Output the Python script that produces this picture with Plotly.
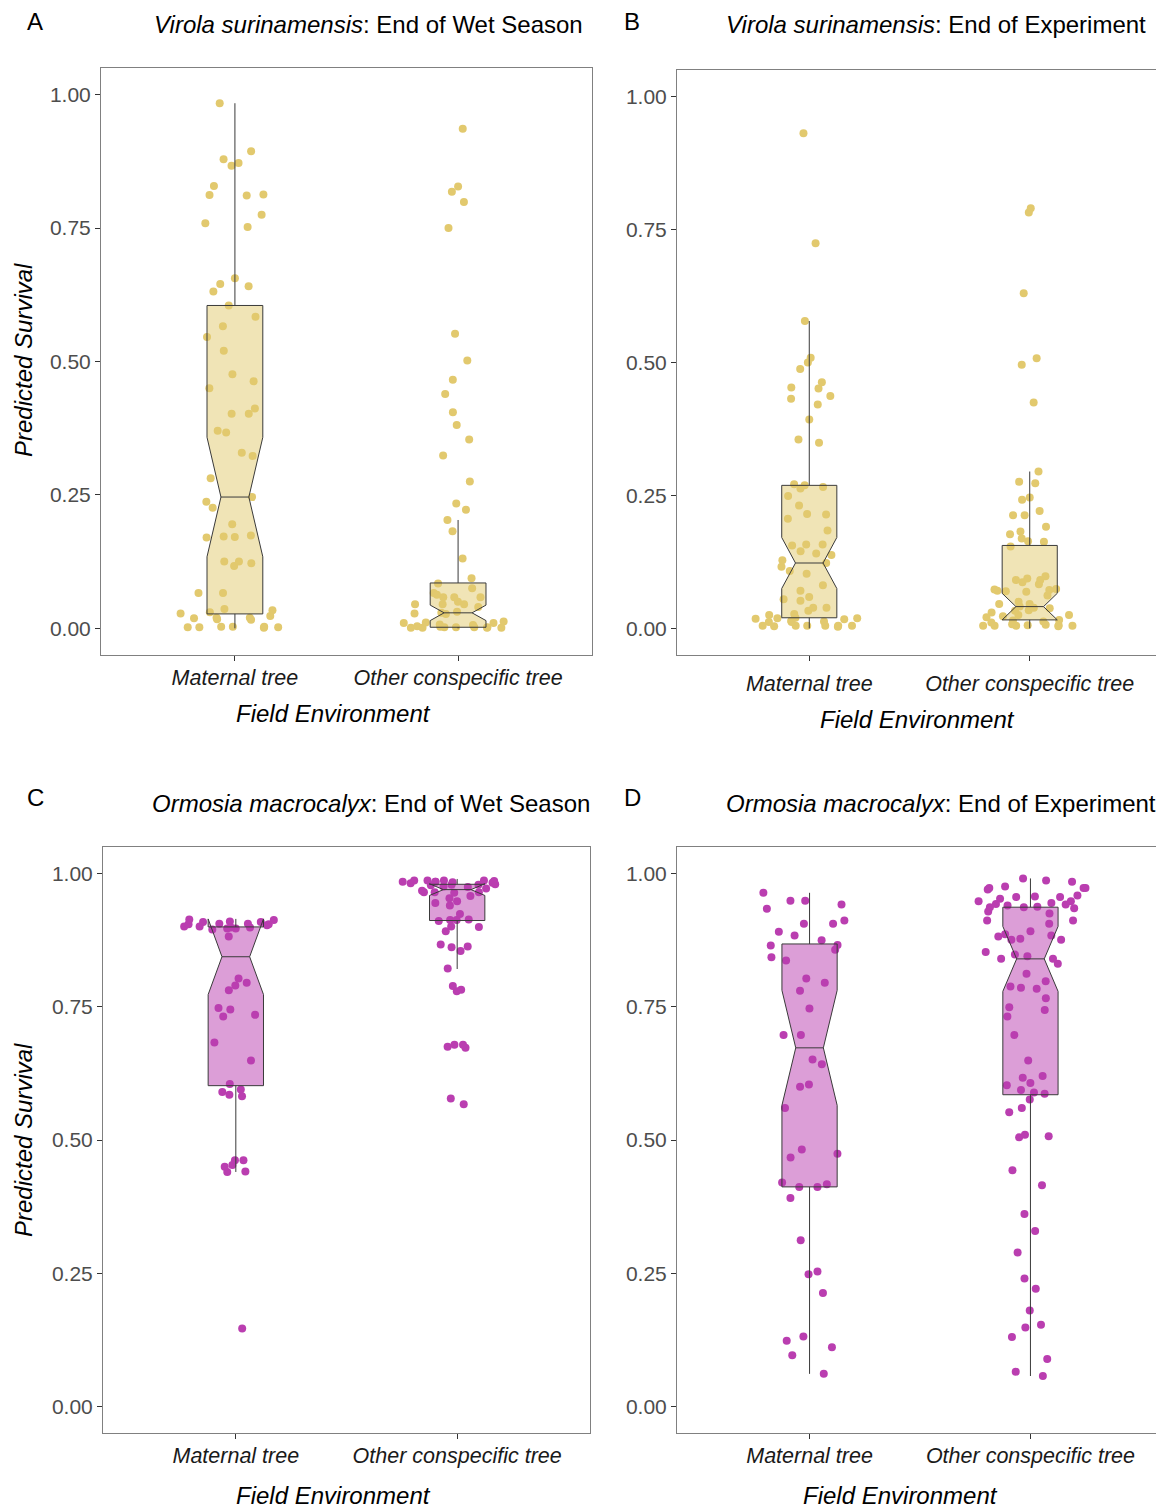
import plotly.graph_objects as go

W, H = 1164, 1509
OFF = 8  # browser body margin
FW, FH = W - OFF, H - OFF

# ---------------- data ----------------
categories = ["Maternal tree", "Other conspecific tree"]
y_ticks = [0.0, 0.25, 0.5, 0.75, 1.0]

# Panel A: Virola surinamensis, End of Wet Season
a_maternal = [0.984, 0.894, 0.879, 0.872, 0.867, 0.829, 0.813, 0.812, 0.811, 0.775,
              0.759, 0.752, 0.656, 0.645, 0.641, 0.631, 0.605, 0.584, 0.566, 0.546,
              0.520, 0.476, 0.463, 0.450, 0.412, 0.402, 0.402, 0.370, 0.367, 0.329,
              0.323, 0.281, 0.246, 0.237, 0.226, 0.195, 0.174, 0.172, 0.171, 0.170,
              0.125, 0.125, 0.117, 0.122, 0.066, 0.066, 0.036, 0.034, 0.030, 0.028,
              0.023, 0.020, 0.019, 0.016, 0.017, 0.020, 0.003, 0.002, 0.003, 0.002,
              0.001, 0.002, 0.003]
a_other = [0.936, 0.828, 0.818, 0.799, 0.750, 0.552, 0.502, 0.466, 0.439, 0.405,
           0.381, 0.354, 0.324, 0.275, 0.234, 0.222, 0.203, 0.182, 0.131, 0.094,
           0.084, 0.075, 0.063, 0.066, 0.058, 0.058, 0.058, 0.050, 0.045, 0.045,
           0.045, 0.031, 0.040, 0.029, 0.028, 0.027, 0.013, 0.011, 0.010, 0.010,
           0.007, 0.002, 0.001, 0.002, 0.001, 0.002, 0.001, 0.002, 0.001, 0.003,
           0.004, 0.006]

# Panel B: Virola surinamensis, End of Experiment
b_maternal = [0.931, 0.724, 0.578, 0.509, 0.500, 0.488, 0.463, 0.453, 0.451, 0.437,
              0.432, 0.421, 0.393, 0.355, 0.349, 0.271, 0.269, 0.266, 0.263, 0.249,
              0.231, 0.215, 0.214, 0.206, 0.184, 0.158, 0.158, 0.156, 0.145, 0.141,
              0.138, 0.128, 0.123, 0.116, 0.108, 0.103, 0.081, 0.071, 0.059, 0.055,
              0.052, 0.039, 0.039, 0.033, 0.027, 0.025, 0.020, 0.019, 0.019, 0.018,
              0.017, 0.014, 0.013, 0.012, 0.012, 0.005, 0.005, 0.005, 0.005, 0.005,
              0.005, 0.004, 0.003]
b_other = [0.790, 0.782, 0.630, 0.508, 0.496, 0.425, 0.295, 0.276, 0.273, 0.246,
           0.242, 0.221, 0.213, 0.213, 0.191, 0.182, 0.177, 0.169, 0.164, 0.163,
           0.154, 0.098, 0.094, 0.091, 0.091, 0.087, 0.083, 0.073, 0.074, 0.072,
           0.071, 0.070, 0.069, 0.062, 0.050, 0.046, 0.046, 0.041, 0.039, 0.038,
           0.034, 0.033, 0.030, 0.025, 0.025, 0.023, 0.021, 0.016, 0.015, 0.013,
           0.011, 0.008, 0.007, 0.006, 0.005, 0.005, 0.005, 0.005, 0.006, 0.004]

# Panel C: Ormosia macrocalyx, End of Wet Season
c_maternal = [0.914, 0.909, 0.906, 0.905, 0.901, 0.899, 0.897, 0.895, 0.909, 0.905,
              0.913, 0.899, 0.906, 0.901, 0.903, 0.897, 0.910, 0.882, 0.803, 0.781,
              0.795, 0.790, 0.748, 0.735, 0.745, 0.732, 0.683, 0.649, 0.605, 0.595,
              0.590, 0.585, 0.582, 0.462, 0.462, 0.440, 0.441, 0.450, 0.453, 0.146]
c_other = [0.987, 0.985, 0.987, 0.985, 0.987, 0.987, 0.986, 0.985, 0.984, 0.979,
           0.965, 0.965, 0.964, 0.954, 0.979, 0.965, 0.975, 0.958, 0.982, 0.978,
           0.983, 0.976, 0.980, 0.972, 0.968, 0.948, 0.945, 0.940, 0.924, 0.914,
           0.913, 0.913, 0.911, 0.900, 0.901, 0.892, 0.862, 0.867, 0.863, 0.855,
           0.822, 0.782, 0.789, 0.779, 0.679, 0.673, 0.679, 0.675, 0.578, 0.567]

# Panel D: Ormosia macrocalyx, End of Experiment
d_maternal = [0.964, 0.949, 0.949, 0.934, 0.942, 0.912, 0.906, 0.906, 0.891, 0.884,
              0.875, 0.866, 0.865, 0.857, 0.843, 0.837, 0.803, 0.795, 0.780, 0.747,
              0.697, 0.697, 0.651, 0.642, 0.600, 0.604, 0.560, 0.467, 0.474, 0.482,
              0.417, 0.412, 0.412, 0.420, 0.391, 0.312, 0.248, 0.253, 0.213, 0.123,
              0.131, 0.111, 0.096, 0.061]
d_other = [0.991, 0.987, 0.985, 0.976, 0.973, 0.973, 0.973, 0.970, 0.959, 0.957,
           0.956, 0.956, 0.953, 0.948, 0.948, 0.945, 0.942, 0.940, 0.937, 0.938,
           0.943, 0.937, 0.935, 0.929, 0.925, 0.912, 0.912, 0.906, 0.892, 0.882,
           0.886, 0.878, 0.876, 0.884, 0.876, 0.848, 0.853, 0.845, 0.831, 0.840,
           0.840, 0.798, 0.812, 0.784, 0.788, 0.786, 0.766, 0.749, 0.744, 0.732,
           0.697, 0.649, 0.620, 0.617, 0.607, 0.603, 0.594, 0.589, 0.587, 0.576,
           0.560, 0.552, 0.510, 0.507, 0.505, 0.443, 0.415, 0.361, 0.329, 0.289,
           0.240, 0.221, 0.180, 0.153, 0.148, 0.130, 0.089, 0.065, 0.057]

# box summary statistics [maternal, other]
a_q1, a_med, a_q3 = [0.027, 0.002], [0.246, 0.029], [0.605, 0.085]
a_lo, a_hi, a_notch = [0.0, 0.0], [0.984, 0.203], [0.112, 0.0145]
b_q1, b_med, b_q3 = [0.020, 0.016], [0.123, 0.041], [0.269, 0.156]
b_lo, b_hi, b_notch = [0.0, 0.0], [0.578, 0.295], [0.048, 0.025]
c_q1, c_med, c_q3 = [0.602, 0.912], [0.844, 0.970], [0.900, 0.980]
c_lo, c_hi, c_notch = [0.440, 0.821], [0.914, 0.990], [0.071, 0.011]
d_q1, d_med, d_q3 = [0.412, 0.585], [0.673, 0.840], [0.868, 0.937]
d_lo, d_hi, d_notch = [0.061, 0.057], [0.964, 0.991], [0.108, 0.061]

titles = ["<i>Virola surinamensis</i>: End of Wet Season",
          "<i>Virola surinamensis</i>: End of Experiment",
          "<i>Ormosia macrocalyx</i>: End of Wet Season",
          "<i>Ormosia macrocalyx</i>: End of Experiment"]
letters = ["A", "B", "C", "D"]

# ---------------- style ----------------
FONT = "Liberation Sans, Arial, Helvetica, sans-serif"
GOLD = "rgb(226,201,110)"
GOLD_FILL = "rgba(226,201,110,0.5)"
MAG = "rgb(186,62,176)"
MAG_FILL = "rgba(186,62,176,0.5)"


def px_x(p):
    return min(1.0, max(0.0, (p - OFF) / FW))


def px_y(p):
    return min(1.0, max(0.0, 1 - (p - OFF) / FH))


# panel pixel boxes (page coordinates): left, right, top, bottom
panels = [
    (101, 592, 68, 655),
    (677, 1162, 70, 655),
    (103, 590, 847, 1433),
    (677, 1163, 847, 1433),
]

panel_data = [
    (a_maternal, a_other, a_q1, a_med, a_q3, a_lo, a_hi, a_notch, GOLD, GOLD_FILL),
    (b_maternal, b_other, b_q1, b_med, b_q3, b_lo, b_hi, b_notch, GOLD, GOLD_FILL),
    (c_maternal, c_other, c_q1, c_med, c_q3, c_lo, c_hi, c_notch, MAG, MAG_FILL),
    (d_maternal, d_other, d_q1, d_med, d_q3, d_lo, d_hi, d_notch, MAG, MAG_FILL),
]

fig = go.Figure()
layout = dict(
    width=FW, height=FH,
    margin=dict(l=0, r=0, t=0, b=0),
    paper_bgcolor="white", plot_bgcolor="white",
    showlegend=False, boxmode="overlay",
    font=dict(family=FONT),
)

annotations = []
for i, (pn, pd) in enumerate(zip(panels, panel_data)):
    sfx = "" if i == 0 else str(i + 1)
    xa, ya = "x" + sfx, "y" + sfx
    mat, oth, q1, med, q3, lo, hi, notch, col, fill = pd

    for cat, vals in zip(categories, [mat, oth]):
        fig.add_trace(go.Box(
            x=[cat] * len(vals), y=vals, xaxis=xa, yaxis=ya,
            boxpoints="all", jitter=1, pointpos=0, width=0.5,
            fillcolor="rgba(0,0,0,0)",
            line=dict(width=0, color="rgba(0,0,0,0)"),
            marker=dict(color=col, size=8, line=dict(width=0)),
            hoverinfo="skip",
        ))
    fig.add_trace(go.Box(
        x=categories, q1=q1, median=med, q3=q3,
        lowerfence=lo, upperfence=hi, notchspan=notch,
        notched=True, notchwidth=0.25, width=0.25, whiskerwidth=0,
        boxpoints=False, xaxis=xa, yaxis=ya,
        fillcolor=fill, line=dict(color="#3a3a3a", width=1),
    ))

    l, r, t, b = pn
    layout["xaxis" + sfx] = dict(
        domain=[px_x(l), px_x(r)], anchor=ya,
        type="category", categoryorder="array", categoryarray=categories,
        range=[-0.6, 1.6],
        showline=True, mirror=True, linecolor="#808080", linewidth=1,
        ticks="outside", ticklen=5, tickcolor="#333333", tickwidth=1,
        tickfont=dict(family=FONT, size=21.5, color="#1a1a1a", style="italic"),
        ticklabelstandoff=(4 if i == 1 else -2),
        showgrid=False, zeroline=False,
    )
    layout["yaxis" + sfx] = dict(
        domain=[px_y(b), px_y(t)], anchor=xa,
        range=[-0.05, 1.05],
        tickvals=y_ticks, tickformat=".2f",
        showline=True, mirror=True, linecolor="#808080", linewidth=1,
        ticks="outside", ticklen=5, tickcolor="#333333", tickwidth=1,
        tickfont=dict(family=FONT, size=21, color="#4d4d4d"),
        showgrid=False, zeroline=False,
    )

# titles
title_pos = [(368, 25), (936, 25), (371, 803), (941, 803)]
for txt, (x, y) in zip(titles, title_pos):
    annotations.append(dict(text=txt, x=px_x(x), y=px_y(y), xref="paper", yref="paper",
                            showarrow=False, xanchor="center", yanchor="middle",
                            font=dict(family=FONT, size=24, color="black")))
letter_pos = [(35, 22), (632, 22), (35, 797), (632, 797)]
for txt, (x, y) in zip(letters, letter_pos):
    annotations.append(dict(text=txt, x=px_x(x), y=px_y(y), xref="paper", yref="paper",
                            showarrow=False, xanchor="center", yanchor="middle",
                            font=dict(family=FONT, size=24, color="black")))
xtitle_pos = [(333, 714), (917, 720), (333, 1495), (900, 1495)]
for (x, y) in xtitle_pos:
    annotations.append(dict(text="<i>Field Environment</i>", x=px_x(x), y=px_y(y),
                            xref="paper", yref="paper", showarrow=False,
                            xanchor="center", yanchor="middle",
                            font=dict(family=FONT, size=24, color="black")))
for y in [360, 1140]:
    annotations.append(dict(text="<i>Predicted Survival</i>", x=px_x(23), y=px_y(y),
                            xref="paper", yref="paper", showarrow=False, textangle=-90,
                            xanchor="center", yanchor="middle",
                            font=dict(family=FONT, size=24, color="black")))

layout["annotations"] = annotations
fig.update_layout(**layout)
fig.write_html("out.html")
